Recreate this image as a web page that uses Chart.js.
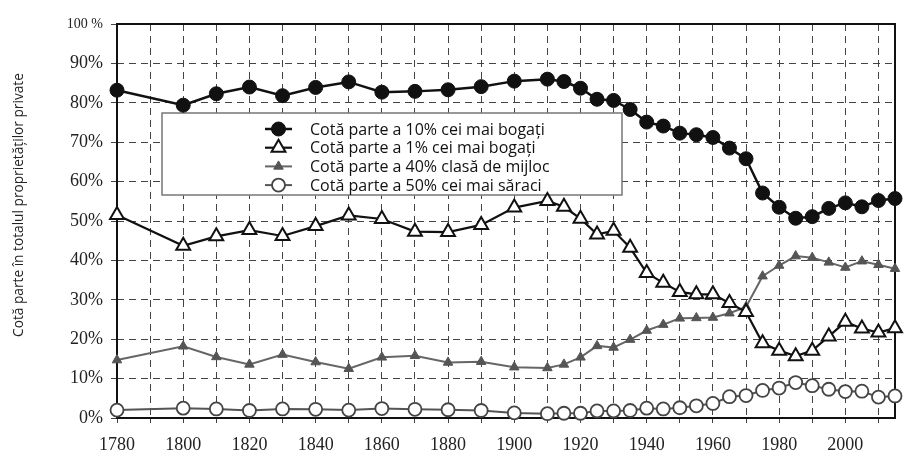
<!DOCTYPE html>
<html>
<head>
<meta charset="utf-8">
<script src="https://cdn.jsdelivr.net/npm/chart.js@4.4.0/dist/chart.umd.min.js"></script>
<style>
  html, body { margin: 0; padding: 0; background: #fff; }
  #wrap { width: 905px; height: 457px; }
</style>
</head>
<body>
<div id="wrap"><canvas id="chart" width="905" height="457"></canvas></div>
<script>
// ----------------- Data -----------------
const years = [1780, 1800, 1810, 1820, 1830, 1840, 1850, 1860, 1870, 1880, 1890, 1900, 1910,
  1915, 1920, 1925, 1930, 1935, 1940, 1945, 1950, 1955, 1960, 1965, 1970, 1975, 1980,
  1985, 1990, 1995, 2000, 2005, 2010, 2015];

const top10 = [83.2, 79.4, 82.3, 84.0, 81.8, 83.9, 85.3, 82.7, 82.9, 83.3, 84.1, 85.5, 86.0,
  85.4, 83.7, 80.9, 80.6, 78.3, 75.1, 74.1, 72.3, 71.9, 71.2, 68.5, 65.8, 57.1, 53.5,
  50.7, 51.1, 53.2, 54.6, 53.6, 55.2, 55.7];

const top1 = [51.5, 43.7, 46.1, 47.7, 46.2, 48.7, 51.4, 50.5, 47.3, 47.2, 49.0, 53.4, 55.1,
  53.6, 50.6, 46.6, 47.5, 43.2, 36.8, 34.3, 32.0, 31.4, 31.4, 29.2, 26.9, 19.0, 17.1,
  15.7, 17.1, 20.7, 24.4, 22.7, 21.7, 22.8];

const middle40 = [14.7, 18.2, 15.5, 13.6, 16.1, 14.2, 12.5, 15.4, 15.8, 14.1, 14.3, 12.9, 12.7,
  13.6, 15.4, 18.3, 17.9, 19.9, 22.2, 23.7, 25.3, 25.4, 25.5, 26.6, 28.2, 36.0, 38.7,
  41.1, 40.7, 39.5, 38.2, 39.8, 38.9, 37.9];

const bottom50 = [2.0, 2.5, 2.3, 1.9, 2.3, 2.2, 2.0, 2.4, 2.2, 2.1, 1.9, 1.3, 1.1,
  1.2, 1.2, 1.8, 1.8, 1.9, 2.5, 2.3, 2.6, 3.1, 3.7, 5.4, 5.7, 7.0, 7.6,
  9.0, 8.2, 7.3, 6.7, 6.8, 5.3, 5.6];

const seriesLabels = [
  'Cotă parte a 10% cei mai bogați',
  'Cotă parte a 1% cei mai bogați',
  'Cotă parte a 40% clasă de mijloc',
  'Cotă parte a 50% cei mai săraci'
];

const xGridYears = [1780, 1790, 1800, 1810, 1820, 1830, 1840, 1850, 1860, 1870, 1880, 1890, 1900,
  1910, 1920, 1930, 1940, 1950, 1960, 1970, 1980, 1990, 2000, 2010];
const yTitle = 'Cotă parte în totalul proprietăților private';

const toPoints = vals => vals.map((v, i) => ({ x: years[i], y: v }));

// ----------------- Custom plugins -----------------
const frame = {
  id: 'frame',
  beforeDatasetsDraw(chart) {
    const { ctx, chartArea: a } = chart;
    ctx.save();
    ctx.strokeStyle = '#111';
    ctx.lineWidth = 2;
    ctx.strokeRect(a.left, a.top, a.right - a.left, a.bottom - a.top);
    ctx.restore();
  }
};

function marker(ctx, ds, x, y) {
  const r = ds.pointRadius;
  ctx.fillStyle = ds.pointBackgroundColor;
  ctx.strokeStyle = ds.pointBorderColor;
  ctx.lineWidth = ds.pointBorderWidth;
  ctx.beginPath();
  if (ds.pointStyle === 'triangle') {
    for (let k = 0; k < 3; k++) {
      const ang = k * 2 * Math.PI / 3;
      const px = x + Math.sin(ang) * r, py = y - Math.cos(ang) * r;
      k === 0 ? ctx.moveTo(px, py) : ctx.lineTo(px, py);
    }
    ctx.closePath();
  } else {
    ctx.arc(x, y, r, 0, Math.PI * 2);
  }
  ctx.fill();
  ctx.stroke();
}

const boxLegend = {
  id: 'boxLegend',
  beforeDatasetsDraw(chart) {
    const { ctx } = chart;
    const bx = 162, by = 113, bw = 460, bh = 82;
    ctx.save();
    ctx.fillStyle = '#fff';
    ctx.fillRect(bx, by, bw, bh);
    ctx.strokeStyle = '#777';
    ctx.lineWidth = 1.5;
    ctx.strokeRect(bx, by, bw, bh);
    ctx.font = '16px "Open Sans", "Noto Sans", sans-serif';
    ctx.textBaseline = 'middle';
    chart.data.datasets.forEach((ds, i) => {
      const y = 129 + i * 18.7;
      ctx.strokeStyle = ds.borderColor;
      ctx.lineWidth = ds.borderWidth;
      ctx.beginPath();
      ctx.moveTo(265, y);
      ctx.lineTo(292, y);
      ctx.stroke();
      marker(ctx, ds, 278.5, y);
      ctx.fillStyle = '#111';
      ctx.fillText(ds.label, 310, y + 1);
    });
    ctx.restore();
  }
};

const axisTitle = {
  id: 'axisTitle',
  afterDraw(chart) {
    const { ctx } = chart;
    ctx.save();
    ctx.translate(19, 205);
    ctx.rotate(-Math.PI / 2);
    ctx.font = '13.7px "Open Sans", "Noto Sans", sans-serif';
    ctx.fillStyle = '#222';
    ctx.textAlign = 'center';
    ctx.textBaseline = 'middle';
    ctx.fillText(yTitle, 0, 0);
    ctx.restore();
  }
};

// ----------------- Chart -----------------
const serif = '"Liberation Serif", "DejaVu Serif", serif';

new Chart(document.getElementById('chart').getContext('2d'), {
  type: 'line',
  data: {
    datasets: [
      {
        label: seriesLabels[0], data: toPoints(top10),
        borderColor: '#111', borderWidth: 2.5,
        pointStyle: 'circle', pointRadius: 7,
        pointBackgroundColor: '#111', pointBorderColor: '#111', pointBorderWidth: 1
      },
      {
        label: seriesLabels[1], data: toPoints(top1),
        borderColor: '#111', borderWidth: 2.2,
        pointStyle: 'triangle', pointRadius: 8,
        pointBackgroundColor: '#fff', pointBorderColor: '#111', pointBorderWidth: 2
      },
      {
        label: seriesLabels[2], data: toPoints(middle40),
        borderColor: '#666', borderWidth: 2,
        pointStyle: 'triangle', pointRadius: 5.5,
        pointBackgroundColor: '#555', pointBorderColor: '#555', pointBorderWidth: 1
      },
      {
        label: seriesLabels[3], data: toPoints(bottom50),
        borderColor: '#555', borderWidth: 2,
        pointStyle: 'circle', pointRadius: 6.5,
        pointBackgroundColor: '#fff', pointBorderColor: '#444', pointBorderWidth: 1.8
      }
    ]
  },
  options: {
    responsive: false,
    animation: false,
    clip: false,
    layout: { padding: { top: 24, right: 5, left: 0, bottom: 0 } },
    plugins: {
      legend: { display: false },
      tooltip: { enabled: false }
    },
    elements: { line: { tension: 0 } },
    scales: {
      x: {
        type: 'linear',
        min: 1780, max: 2015,
        afterFit: s => { s.height = 39; },
        afterBuildTicks: s => { s.ticks = xGridYears.map(v => ({ value: v })); },
        ticks: {
          autoSkip: false, maxRotation: 0, padding: 11,
          color: '#222',
          font: { family: serif, size: 18 },
          callback: v => (v % 20 === 0 ? String(v) : '')
        },
        grid: { color: '#444', lineWidth: 1, tickLength: 5 },
        border: { display: false, dash: [7, 5] }
      },
      y: {
        min: 0, max: 100,
        afterFit: s => { s.width = 117; },
        ticks: {
          stepSize: 10, padding: 8, color: '#222',
          font: c => (c.tick && c.tick.value === 100
            ? { family: serif, size: 14 }
            : { family: serif, size: 18 }),
          callback: v => (v === 100 ? '100 %' : v + '%')
        },
        grid: { color: '#444', lineWidth: 1, tickLength: 6 },
        border: { display: false, dash: [7, 5] }
      }
    }
  },
  plugins: [frame, boxLegend, axisTitle]
});
</script>
</body>
</html>
